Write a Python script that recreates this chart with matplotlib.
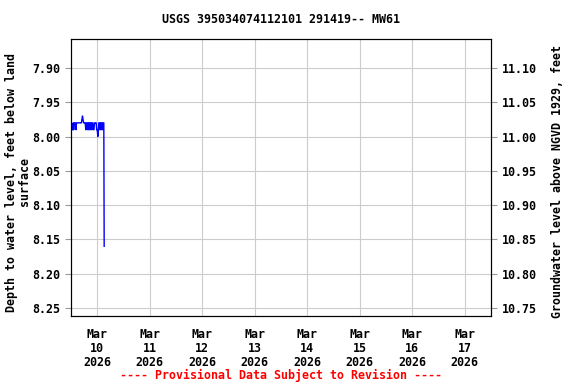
import matplotlib
matplotlib.use("Agg")
import matplotlib.pyplot as plt
import pandas as pd

title = "USGS 395034074112101 291419-- MW61"
left_label = "Depth to water level, feet below land\nsurface"
right_label = "Groundwater level above NGVD 1929, feet"
footer = "---- Provisional Data Subject to Revision ----"

# depth to water, 15-minute readings starting 2026-03-09 12:45
start_time = "2026-03-09 12:45"
depth = [7.99, 7.98, 7.99, 7.98, 7.98, 7.98, 7.99, 7.98, 7.98, 7.98,
         7.98, 7.98, 7.98, 7.98, 7.98, 7.98, 7.98, 7.975, 7.97, 7.975,
         7.98, 7.98, 7.98, 7.98, 7.99, 7.98, 7.98, 7.99, 7.98, 7.99,
         7.98, 7.99, 7.98, 7.99, 7.98, 7.99, 7.98, 7.98, 7.99, 7.99,
         7.98, 7.98, 7.98, 7.98, 7.99, 7.99, 8.00, 7.99, 7.98, 7.99,
         7.98, 7.99, 7.98, 7.99, 7.98, 7.99, 7.98, 7.98, 8.07, 8.16]
datum_offset = 19.00

left_ticks = [7.90, 7.95, 8.00, 8.05, 8.10, 8.15, 8.20, 8.25]
right_ticks = [11.10, 11.05, 11.00, 10.95, 10.90, 10.85, 10.80, 10.75]
tick_days = pd.date_range("2026-03-10", "2026-03-17", freq="D")

times = pd.date_range(start_time, periods=len(depth), freq="15min")
# the last two readings come in quick succession
times = times[:-2].append(pd.DatetimeIndex([times[-3] + pd.Timedelta("5min"),
                                             times[-3] + pd.Timedelta("10min")]))

plt.rcParams['font.family'] = ['DejaVu Sans Mono']
plt.rcParams['font.weight'] = 'bold'
fs = 8.4

fig = plt.figure(figsize=(5.76, 3.84), dpi=100)
ax = fig.add_axes([71/576, 1 - 316/384, 420/576, 277/384])

ax.plot(times, depth, color='#0000ff', lw=1)

ax.set_xlim(pd.Timestamp("2026-03-09 12:00"), pd.Timestamp("2026-03-17 12:00"))
ax.set_ylim(8.2617, 7.8577)
ax.set_yticks(left_ticks)
ax.set_yticklabels([f"{v:.2f}" for v in left_ticks], fontsize=fs, fontweight='bold')
ax.set_xticks(tick_days)
ax.set_xticklabels([d.strftime("%b\n%d\n%Y") for d in tick_days], fontsize=fs,
                   fontweight='bold', linespacing=1.07)
ax.grid(True, color='#cccccc', lw=0.8)
ax.tick_params(direction='out', length=4, width=0.8, color='#999999')
ax.tick_params(axis='x', length=0, pad=9)
ax.set_ylabel(left_label, fontsize=fs, fontweight='bold', linespacing=0.95)
ax.yaxis.set_label_coords((31 - 71) / 420, (316 - 182) / 277)
ax.set_title(title, fontsize=fs, fontweight='bold', pad=11.5)

ax2 = ax.twinx()
lo, hi = ax.get_ylim()
ax2.set_ylim(datum_offset - lo, datum_offset - hi)
ax2.set_yticks(right_ticks)
ax2.set_yticklabels([f"{v:.2f}" for v in right_ticks], fontsize=fs, fontweight='bold')
ax2.tick_params(direction='out', length=4, width=0.8, color='#999999')
ax2.set_ylabel(right_label, fontsize=fs, fontweight='bold')
ax2.yaxis.set_label_coords((551 - 71) / 420, (316 - 182) / 277)

fig.text(281/576, 1 - 375/384, footer, color='red', ha='center', va='center',
         fontsize=fs, fontweight='bold')

fig.savefig("out.png", dpi=100)
